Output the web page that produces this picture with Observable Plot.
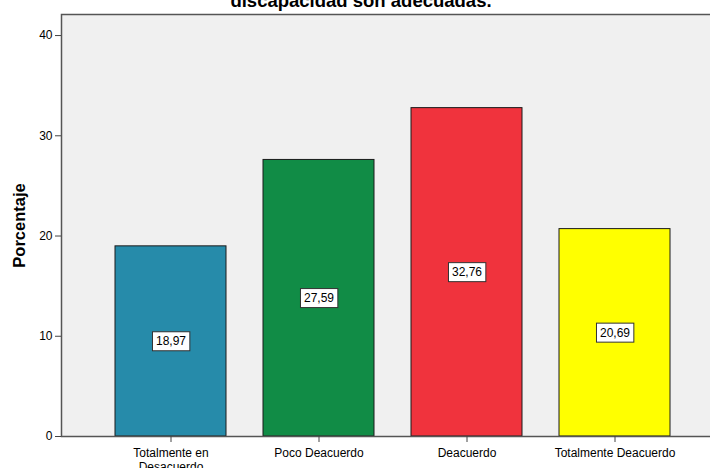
<!DOCTYPE html>
<html><head><meta charset="utf-8">
<script src="https://cdn.jsdelivr.net/npm/d3@7"></script>
<script src="https://cdn.jsdelivr.net/npm/@observablehq/plot@0.6"></script>
<style>html,body{margin:0;padding:0;background:#fff;overflow:hidden;width:710px;} #chart{width:710px;overflow:hidden;} #chart svg{max-width:none !important;}</style>
</head><body><div id="chart"></div>
<script>
const categories = ["Totalmente en Desacuerdo", "Poco Deacuerdo", "Deacuerdo", "Totalmente Deacuerdo"];
const values = [18.97, 27.59, 32.76, 20.69];
const valueLabels = ["18,97", "27,59", "32,76", "20,69"];
const colors = ["#268baa", "#118c46", "#f0333d", "#ffff00"];
const tickLabels = ["Totalmente en\nDesacuerdo", "Poco Deacuerdo", "Deacuerdo", "Totalmente Deacuerdo"];
const yTicks = [0, 10, 20, 30, 40];
const yMax = 42.1;
const titleText = "discapacidad son adecuadas.";
const yLabel = "Porcentaje";

const data = categories.map((c, i) => ({category: c, value: values[i], label: valueLabels[i]}));

const chart = Plot.plot({
  width: 730, height: 468,
  marginTop: 14, marginBottom: 32, marginLeft: 61, marginRight: 0,
  style: {fontFamily: '"Liberation Sans", Arial, sans-serif', fontSize: "12px", background: "#fff", color: "#000", maxWidth: "none"},
  x: {type: "band", domain: categories, range: [61, 723], paddingInner: 0.25, paddingOuter: 0.35, label: null},
  y: {domain: [0, yMax], label: null},
  color: {domain: categories, range: colors},
  marks: [
    Plot.frame({fill: "#f0f0f0", stroke: "none"}),
    Plot.barY(data, {x: "category", y: "value", fill: "category", stroke: "#1a1a1a", strokeWidth: 1}),
    Plot.frame({stroke: "#555", strokeWidth: 1.5}),
    Plot.axisY({ticks: yTicks, tickSize: 6, tickPadding: 3, fontSize: 12, label: null, stroke: "#444"}),
    Plot.axisX({tickSize: 6, tickPadding: 5, fontSize: 12, label: null, stroke: "#444",
      tickFormat: (d) => tickLabels[categories.indexOf(d)], lineHeight: 1.15}),
    Plot.text(data, {x: "category", y: (d) => d.value / 2, text: "label", fontSize: 12, fill: "#000"}),
    Plot.text([titleText], {text: (d) => d, frameAnchor: "top", dx: -35, dy: -7.5, lineAnchor: "bottom", fontSize: 18.5, fontWeight: "bold", fill: "#000"}),
    Plot.text([yLabel], {text: (d) => d, frameAnchor: "left", textAnchor: "middle", rotate: -90, dx: -42, lineAnchor: "middle", fontSize: 16.5, fontWeight: "bold", fill: "#000"})
  ]
});
document.getElementById("chart").append(chart);

const svg = chart.tagName.toLowerCase() === "svg" ? chart : chart.querySelector("svg");
svg.style.maxWidth = "none";
const labelSet = new Set(valueLabels);
svg.querySelectorAll("text").forEach((t) => {
  if (labelSet.has(t.textContent)) {
    const b = t.getBBox();
    const r = document.createElementNS("http://www.w3.org/2000/svg", "rect");
    const tr = t.getAttribute("transform");
    if (tr) r.setAttribute("transform", tr);
    r.setAttribute("x", b.x - 3.5);
    r.setAttribute("y", b.y - 2.5);
    r.setAttribute("width", b.width + 7);
    r.setAttribute("height", b.height + 5);
    r.setAttribute("fill", "#fff");
    r.setAttribute("stroke", "#333");
    r.setAttribute("stroke-width", 1);
    t.parentNode.insertBefore(r, t);
  }
});
</script>
</body></html>
